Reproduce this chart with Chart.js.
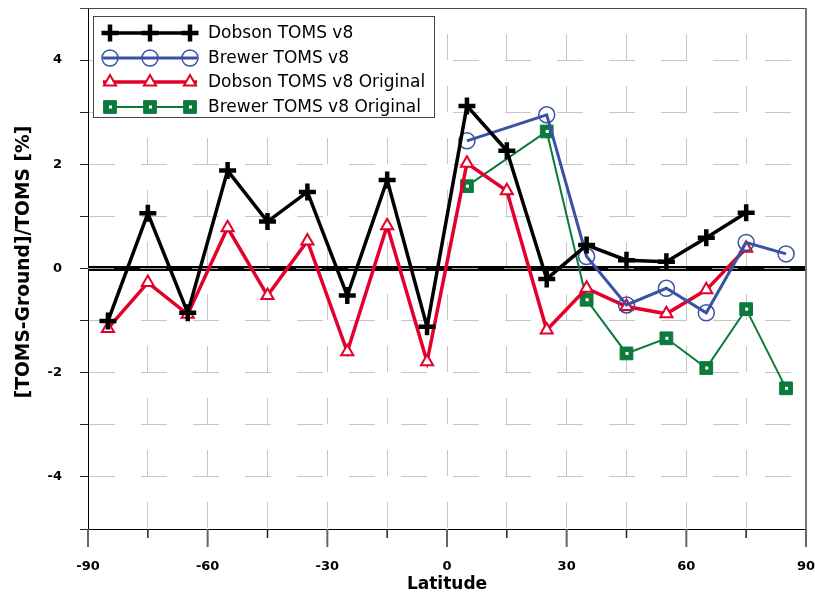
<!DOCTYPE html>
<html>
<head>
<meta charset="utf-8">
<script src="https://cdn.jsdelivr.net/npm/chart.js@4.4.1/dist/chart.umd.min.js"></script>
<style>
  html, body { margin: 0; padding: 0; background: #fff; }
  #wrap { width: 815px; height: 595px; }
</style>
</head>
<body>
<div id="wrap"><canvas id="ozoneChart" width="815" height="595"></canvas></div>
<script>
// latitude bands (deg) for each station group
const dobsonLat = [-85, -75, -65, -55, -45, -35, -25, -15, -5, 5, 15, 25, 35, 45, 55, 65, 75];
const brewerLat = [5, 25, 35, 45, 55, 65, 75, 85];

// [TOMS-Ground]/TOMS in %
const dobsonV8 = [-1.01, 1.06, -0.85, 1.88, 0.90, 1.47, -0.52, 1.70, -1.12, 3.12, 2.26, -0.20, 0.45, 0.16, 0.13, 0.59, 1.07];
const brewerV8 = [2.45, 2.95, 0.23, -0.70, -0.38, -0.85, 0.50, 0.28];
const dobsonOrig = [-1.15, -0.27, -0.88, 0.78, -0.52, 0.53, -1.60, 0.82, -1.79, 2.02, 1.49, -1.18, -0.38, -0.73, -0.87, -0.41, 0.39];
const brewerOrig = [1.58, 2.63, -0.60, -1.63, -1.34, -1.91, -0.78, -2.30];

const seriesNames = ["Dobson TOMS v8", "Brewer TOMS v8", "Dobson TOMS v8 Original", "Brewer TOMS v8 Original"];
const yTitle = '[TOMS-Ground]/TOMS [%]';
const xTickStep = 15;
const yTickStep = 1;

const black = '#000000';
const blue = '#3a52a3';
const red = '#e3002b';
const green = '#0b7a3a';
const gridGrey = '#c6c6c6';

Chart.defaults.font.family = "'DejaVu Sans', Verdana, sans-serif";
Chart.defaults.color = '#000';

function toPoints(xs, ys) {
  return xs.map((x, i) => ({ x: x, y: ys[i] }));
}

// same marker shapes as the datasets, for the hand drawn legend
function drawMarker(ctx, style, x, y, r, stroke, fill, bw) {
  ctx.save();
  ctx.lineWidth = bw;
  ctx.strokeStyle = stroke;
  ctx.fillStyle = fill;
  ctx.beginPath();
  if (style === 'cross') {
    ctx.moveTo(x - r, y); ctx.lineTo(x + r, y);
    ctx.moveTo(x, y - r); ctx.lineTo(x, y + r);
    ctx.stroke();
  } else if (style === 'circle') {
    ctx.arc(x, y, r, 0, Math.PI * 2);
    if (fill !== 'transparent') ctx.fill();
    ctx.stroke();
  } else if (style === 'triangle') {
    let a = 0;
    ctx.moveTo(x + Math.sin(a) * r, y - Math.cos(a) * r);
    a += Math.PI * 2 / 3;
    ctx.lineTo(x + Math.sin(a) * r, y - Math.cos(a) * r);
    a += Math.PI * 2 / 3;
    ctx.lineTo(x + Math.sin(a) * r, y - Math.cos(a) * r);
    ctx.closePath();
    ctx.fill();
    ctx.stroke();
  } else if (style === 'rect') {
    const s = Math.SQRT1_2 * r;
    ctx.rect(x - s, y - s, 2 * s, 2 * s);
    ctx.fill();
    ctx.stroke();
  }
  ctx.restore();
}

const framePlugin = {
  id: 'frame',
  beforeDatasetsDraw(chart) {
    const { ctx, chartArea: a, scales: { y } } = chart;
    const y0 = y.getPixelForValue(0);
    ctx.save();
    ctx.strokeStyle = black;
    ctx.lineWidth = 5;
    ctx.beginPath();
    ctx.moveTo(a.left, y0);
    ctx.lineTo(a.right, y0);
    ctx.stroke();
    ctx.strokeStyle = '#a8a8a8';
    ctx.lineWidth = 1;
    ctx.setLineDash([26, 26]);
    ctx.beginPath();
    ctx.moveTo(a.left, y0);
    ctx.lineTo(a.right, y0);
    ctx.stroke();
    ctx.restore();
  },
  afterDatasetsDraw(chart) {
    // little white dot inside the green squares
    const { ctx } = chart;
    const meta = chart.getDatasetMeta(3);
    ctx.save();
    ctx.fillStyle = '#fff';
    meta.data.forEach(p => ctx.fillRect(p.x - 1, p.y - 1.5, 3, 3));
    ctx.restore();
  },
  afterDraw(chart) {
    const { ctx, chartArea: a, scales: { x } } = chart;
    ctx.save();
    // top and right frame
    ctx.strokeStyle = '#444';
    ctx.lineWidth = 1;
    ctx.beginPath();
    ctx.moveTo(a.left - 8, a.top + 0.5);
    ctx.lineTo(a.right, a.top + 0.5);
    ctx.stroke();
    ctx.strokeStyle = '#777';
    ctx.lineWidth = 2;
    ctx.beginPath();
    ctx.moveTo(a.right, a.top);
    ctx.lineTo(a.right, a.bottom);
    ctx.stroke();
    // x tick marks, long at labelled values
    x.ticks.forEach(t => {
      const px = x.getPixelForValue(t.value);
      const major = t.value % 30 === 0;
      ctx.strokeStyle = major ? '#666' : '#222';
      ctx.lineWidth = major ? 2 : 1.5;
      ctx.beginPath();
      ctx.moveTo(px, a.bottom);
      ctx.lineTo(px, a.bottom + (major ? 18 : 9));
      ctx.stroke();
    });

    // y axis title
    ctx.save();
    ctx.translate(24, 262);
    ctx.rotate(-Math.PI / 2);
    ctx.font = "bold 18.7px 'DejaVu Sans'";
    ctx.textAlign = 'center';
    ctx.textBaseline = 'middle';
    ctx.fillStyle = '#000';
    ctx.fillText(yTitle, 0, 0);
    ctx.restore();

    // legend box
    const bx = 93.5, by = 16.5, bw = 341, bh = 101;
    ctx.fillStyle = '#fff';
    ctx.fillRect(bx, by, bw, bh);
    ctx.strokeStyle = '#444';
    ctx.lineWidth = 1;
    ctx.strokeRect(bx, by, bw, bh);
    const rows = [33, 58, 82, 107];
    ctx.font = "17px 'DejaVu Sans'";
    ctx.textBaseline = 'middle';
    ctx.textAlign = 'left';
    chart.data.datasets.forEach((ds, i) => {
      const ry = rows[i];
      ctx.strokeStyle = ds.borderColor;
      ctx.lineWidth = ds.borderWidth;
      ctx.beginPath();
      ctx.moveTo(103, ry);
      ctx.lineTo(197, ry);
      ctx.stroke();
      [110, 150, 190].forEach(mx => {
        drawMarker(ctx, ds.pointStyle, mx, ry, ds.pointRadius, ds.pointBorderColor, ds.pointBackgroundColor, ds.pointBorderWidth);
        if (i === 3) { ctx.fillStyle = '#fff'; ctx.fillRect(mx - 1, ry - 1.5, 3, 3); }
      });
      ctx.fillStyle = '#000';
      ctx.fillText(ds.label, 208, ry + 1);
    });
    ctx.restore();
  }
};

const ctx = document.getElementById('ozoneChart').getContext('2d');
const ozoneChart = new Chart(ctx, {
  type: 'line',
  data: {
    datasets: [
      {
        label: seriesNames[0],
        data: toPoints(dobsonLat, dobsonV8),
        borderColor: black,
        borderWidth: 3.5,
        pointStyle: 'cross',
        pointRadius: 8.5,
        pointBorderWidth: 4.5,
        pointBorderColor: black,
        pointBackgroundColor: black
      },
      {
        label: seriesNames[1],
        data: toPoints(brewerLat, brewerV8),
        borderColor: blue,
        borderWidth: 3,
        pointStyle: 'circle',
        pointRadius: 8,
        pointBorderWidth: 1.5,
        pointBorderColor: blue,
        pointBackgroundColor: 'transparent'
      },
      {
        label: seriesNames[2],
        data: toPoints(dobsonLat, dobsonOrig),
        borderColor: red,
        borderWidth: 3.5,
        pointStyle: 'triangle',
        pointRadius: 7,
        pointBorderWidth: 2,
        pointBorderColor: red,
        pointBackgroundColor: '#fff'
      },
      {
        label: seriesNames[3],
        data: toPoints(brewerLat, brewerOrig),
        borderColor: green,
        borderWidth: 2,
        pointStyle: 'rect',
        pointRadius: 9,
        pointBorderWidth: 1,
        pointBorderColor: green,
        pointBackgroundColor: green
      }
    ]
  },
  options: {
    responsive: false,
    animation: false,
    layout: { autoPadding: false, padding: { top: 8, right: 9, left: 0, bottom: 0 } },
    plugins: {
      legend: { display: false },
      tooltip: { enabled: false }
    },
    scales: {
      x: {
        type: 'linear',
        min: -90,
        max: 90,
        afterFit: s => { s.height = 66; s.paddingLeft = 0; s.paddingRight = 0; },
        ticks: {
          stepSize: xTickStep,
          autoSkip: false,
          maxRotation: 0,
          padding: 30,
          font: { size: 13, weight: 'bold' },
          color: '#000',
          callback: v => (v % 30 === 0 ? String(v) : '')
        },
        grid: { color: gridGrey, lineWidth: 1, drawTicks: false },
        border: { display: true, color: '#000', width: 1, dash: [26, 26], dashOffset: 26 },
        title: {
          display: true,
          text: 'Latitude',
          font: { size: 17, weight: 'bold' },
          color: '#000',
          padding: { top: 0, bottom: 0 }
        }
      },
      y: {
        min: -5,
        max: 5,
        afterFit: s => { s.width = 88; s.paddingTop = 0; s.paddingBottom = 0; },
        ticks: {
          stepSize: yTickStep,
          padding: 18,
          font: { size: 13, weight: 'bold' },
          color: '#000',
          callback: v => (v % 2 === 0 ? String(v) : '')
        },
        grid: { color: gridGrey, lineWidth: 1, tickLength: 8, tickColor: '#222' },
        border: { display: true, color: '#000', width: 1, dash: [26, 26], dashOffset: 0 },
        title: { display: false }
      }
    }
  },
  plugins: [framePlugin]
});
</script>
</body>
</html>
